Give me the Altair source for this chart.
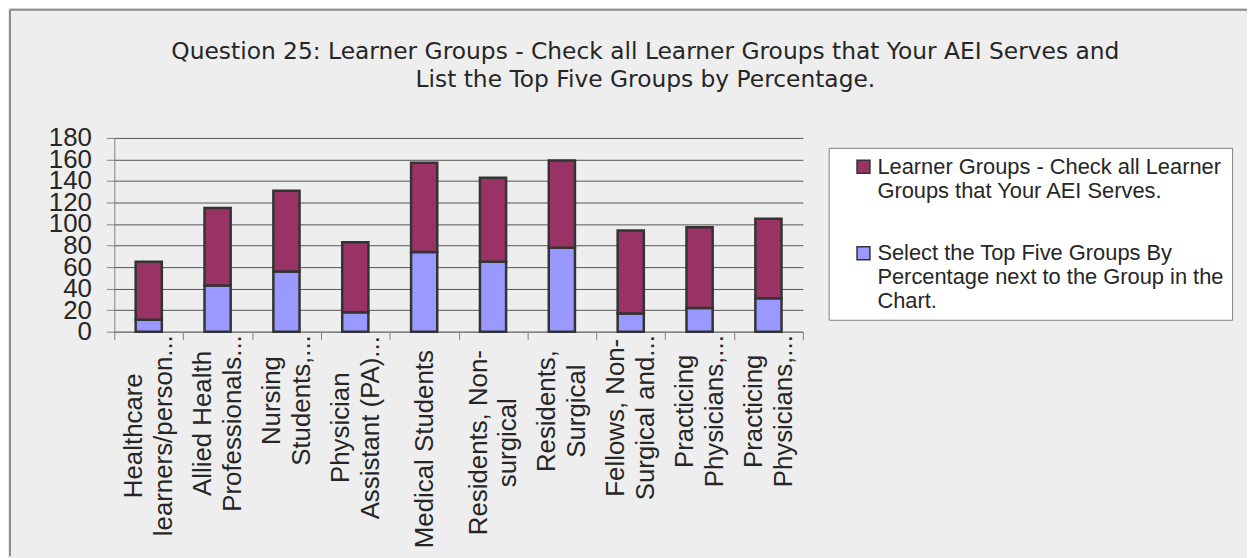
import json
import altair as alt
import pandas as pd

# ---- data ----
categories = [
    "Healthcare|learners/person...",
    "Allied Health|Professionals...",
    "Nursing|Students,...",
    "Physician|Assistant (PA)...",
    "Medical Students",
    "Residents, Non-|surgical",
    "Residents,|Surgical",
    "Fellows, Non-|Surgical and...",
    "Practicing|Physicians,...",
    "Practicing|Physicians,...",
]
series = [
    "Learner Groups - Check all Learner Groups that Your AEI Serves.",
    "Select the Top Five Groups By Percentage next to the Group in the Chart.",
]
legend_lines = {
    series[0]: ["Learner Groups - Check all Learner", "Groups that Your AEI Serves."],
    series[1]: ["Select the Top Five Groups By", "Percentage next to the Group in the", "Chart."],
}
serves_values = [54, 72, 75, 65, 83, 78, 81, 77, 75, 74]      # upper (maroon) segment
top_five_values = [11, 43, 56, 18, 74, 65, 78, 17, 22, 31]    # lower (blue) segment
y_ticks = [0, 20, 40, 60, 80, 100, 120, 140, 160, 180]
title_lines = [
    "Question 25: Learner Groups - Check all Learner Groups that Your AEI Serves and",
    "List the Top Five Groups by Percentage.",
]
colors = ["#993366", "#9999FF"]

rows = []
for i in range(len(categories)):
    rows.append({"idx": i, "series": series[1], "value": top_five_values[i], "stack": 0})
    rows.append({"idx": i, "series": series[0], "value": serves_values[i], "stack": 1})
df = pd.DataFrame(rows)

FONT = "Liberation Sans"
TXT = "#262626"
XFS = 26          # category label font size
XLH = 30          # category label line height

# approximate Arial/Liberation Sans advance widths (per 1000 em) to centre wrapped labels
_W = dict(zip("abcdefghijklmnopqrstuvwxyz",
              [556, 556, 500, 556, 556, 278, 556, 556, 222, 222, 500, 222, 833,
               556, 556, 556, 556, 333, 500, 278, 556, 500, 722, 500, 500, 500]))
_W.update(dict(zip("ABCDEFGHIJKLMNOPQRSTUVWXYZ",
                   [667, 667, 722, 722, 667, 611, 778, 722, 278, 500, 667, 556, 833,
                    722, 778, 667, 778, 722, 667, 611, 722, 667, 944, 667, 667, 611])))
_W.update({" ": 278, ".": 278, ",": 278, "-": 333, "/": 278, "(": 333, ")": 333})


def text_width(s, size):
    return sum(_W.get(ch, 556) for ch in s) * size / 1000.0


# distance from the end of the ticks (axis + 8px) to where the longest line starts
cond_pad = []
for i, c in enumerate(categories):
    longest = max(text_width(part, XFS) for part in c.split("|"))
    gap = -5 if "..." in c else 10
    cond_pad.append({"test": f"datum.value === {i}", "value": round(gap + longest / 2.0, 1)})

cats_js = json.dumps(categories)
label_expr = (f"isValid({cats_js}[datum.value]) ? split({cats_js}[datum.value], '|') : ''")
multi_test = (f"isValid({cats_js}[datum.value]) && indexof({cats_js}[datum.value], '|') >= 0")
legend_expr = ("datum.value == " + json.dumps(series[0]) + " ? " + json.dumps(legend_lines[series[0]])
               + " : " + json.dumps(legend_lines[series[1]]))

bars = alt.Chart(df).mark_bar(
    width={"band": 0.38}, stroke="#333333", strokeWidth=2.5
).encode(
    x=alt.X(
        "idx:O",
        sort=None,
        scale=alt.Scale(paddingInner=0, paddingOuter=0),
        axis=alt.Axis(
            title=None, labelExpr=label_expr, labelAngle=270, labelAlign="center",
            labelBaseline="middle", labelLineHeight=XLH,
            labelPadding={"condition": cond_pad, "value": 100},
            labelOffset={"condition": {"test": multi_test, "value": -XLH / 2}, "value": 0},
            labelFontSize=XFS, labelFont=FONT, labelColor=TXT, labelLimit=400,
            labelOverlap=False, tickBand="extent", tickSize=8, tickColor="#808080",
            domainColor="#808080", grid=False,
        ),
    ),
    y=alt.Y(
        "value:Q",
        stack="zero",
        scale=alt.Scale(domain=[0, 180], nice=False),
        axis=alt.Axis(
            title=None, values=y_ticks, labelFontSize=26, labelFont=FONT, labelColor=TXT,
            labelPadding=15, labelOverlap=False, labelFlush=False, labelBound=False,
            tickSize=8, tickColor="#808080", domainColor="#808080",
            grid=True, gridColor="#555555", gridWidth=1,
        ),
    ),
    color=alt.Color(
        "series:N",
        scale=alt.Scale(domain=series, range=colors),
        legend=alt.Legend(
            title=None, orient="none", legendX=719, legendY=10, padding=8,
            fillColor="#FFFFFF", strokeColor="#808080", symbolType="square",
            symbolSize=169, symbolStrokeColor="#333333", symbolStrokeWidth=1.5,
            symbolOffset=16, labelOffset=3, labelFontSize=22, labelFont=FONT,
            labelColor=TXT, labelLimit=600, rowPadding=41,
            labelExpr=legend_expr,
        ),
    ),
    order=alt.Order("stack:Q"),
)

frame_data = alt.Data(values=[{"f": 1}])
frame_top = alt.Chart(frame_data).mark_rule(color="#8a8a8a", strokeWidth=2).encode(
    x=alt.value(-105), x2=alt.value(1141), y=alt.value(-129), y2=alt.value(-129)
)
frame_left = alt.Chart(frame_data).mark_rule(color="#8a8a8a", strokeWidth=2).encode(
    x=alt.value(-105), x2=alt.value(-105), y=alt.value(-129), y2=alt.value(421)
)

chart = alt.layer(frame_top, frame_left, bars).properties(
    width=693,
    height=195,
    autosize=alt.AutoSizeParams(type="none"),
    padding={"left": 107, "top": 129, "right": 447, "bottom": 226},
    background="#EEEEEE",
    title=alt.TitleParams(
        text=title_lines, fontSize=23.5, font="DejaVu Sans", fontWeight="normal", color=TXT,
        anchor="middle", lineHeight=28, dx=188, offset=-83,
    ),
).configure(style={"guide-label": {"lineHeight": 24}}).configure_view(strokeWidth=0)

chart.save("out.html", embed_options={"renderer": "svg", "actions": False})
